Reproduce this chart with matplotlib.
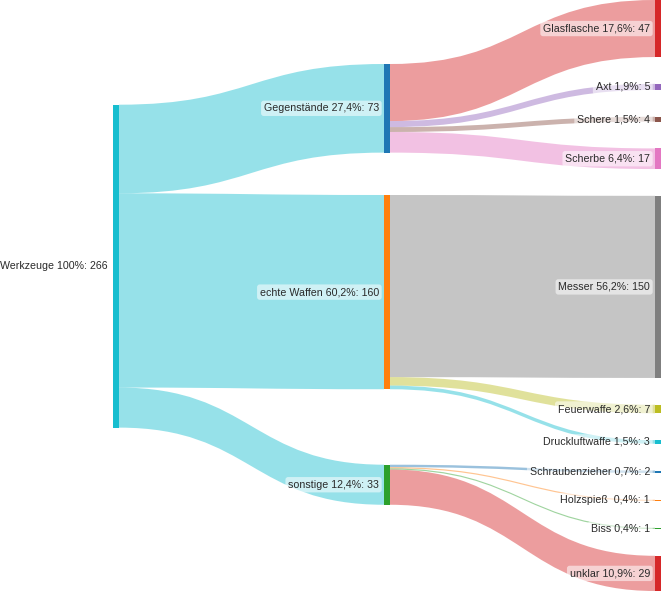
import matplotlib
matplotlib.use("Agg")
import matplotlib.pyplot as plt
from matplotlib.path import Path
from matplotlib.patches import PathPatch, Rectangle

# nodes: name, label text, colour, column
names = ["Werkzeuge", "Gegenstände", "echte Waffen", "sonstige",
         "Glasflasche", "Axt", "Schere", "Scherbe", "Messer", "Feuerwaffe",
         "Druckluftwaffe", "Schraubenzieher", "Holzspieß", "Biss", "unklar"]
labels = ["Werkzeuge 100%: 266", "Gegenstände 27,4%: 73", "echte Waffen 60,2%: 160",
          "sonstige 12,4%: 33", "Glasflasche 17,6%: 47", "Axt 1,9%: 5",
          "Schere 1,5%: 4", "Scherbe 6,4%: 17", "Messer 56,2%: 150",
          "Feuerwaffe 2,6%: 7", "Druckluftwaffe 1,5%: 3", "Schraubenzieher 0,7%: 2",
          "Holzspieß  0,4%: 1", "Biss 0,4%: 1", "unklar 10,9%: 29"]
colors = ["#17becf", "#1f77b4", "#ff7f0e", "#2ca02c", "#d62728", "#9467bd",
          "#8c564b", "#e377c2", "#7f7f7f", "#bcbd22", "#17becf", "#1f77b4",
          "#ff7f0e", "#2ca02c", "#d62728"]
column = [0, 1, 1, 1, 2, 2, 2, 2, 2, 2, 2, 2, 2, 2, 2]

# links
sources = [0, 0, 0, 1, 1, 1, 1, 2, 2, 2, 3, 3, 3, 3]
targets = [1, 2, 3, 4, 5, 6, 7, 8, 9, 10, 11, 12, 13, 14]
values = [73, 160, 33, 47, 5, 4, 17, 150, 7, 3, 2, 1, 1, 29]

# layout (pixels)
W, H = 661, 591
col_x = [113, 384, 655]
node_w = 6
scale = 1.214
fixed_top = {0: 104.7, 1: 64.0, 2: 195.0, 3: 464.7}

n = len(names)
node_val = [0] * n
for s, t, v in zip(sources, targets, values):
    node_val[t] += v
node_val[0] = sum(v for s, v in zip(sources, values) if s == 0)

# right column: equal gaps filling the full height
right = [i for i in range(n) if column[i] == 2]
gap = (H - sum(node_val[i] for i in right) * scale) / (len(right) - 1)
top = {}
y = 0.0
for i in right:
    top[i] = y
    y += node_val[i] * scale + gap
top.update(fixed_top)

fig = plt.figure(figsize=(W / 100, H / 100), dpi=100)
ax = fig.add_axes([0, 0, 1, 1])
ax.set_xlim(0, W)
ax.set_ylim(H, 0)
ax.axis("off")

out_off = [0.0] * n
in_off = [0.0] * n
for s, t, v in zip(sources, targets, values):
    h = v * scale
    x0 = col_x[column[s]] + node_w
    x1 = col_x[column[t]]
    xm = (x0 + x1) / 2
    s0 = top[s] + out_off[s]
    t0 = top[t] + in_off[t]
    out_off[s] += h
    in_off[t] += h
    verts = [(x0, s0), (xm, s0), (xm, t0), (x1, t0),
             (x1, t0 + h),
             (xm, t0 + h), (xm, s0 + h), (x0, s0 + h),
             (x0, s0)]
    codes = [Path.MOVETO, Path.CURVE4, Path.CURVE4, Path.CURVE4,
             Path.LINETO,
             Path.CURVE4, Path.CURVE4, Path.CURVE4,
             Path.CLOSEPOLY]
    # first stage takes the source colour, second stage the target colour
    lc = colors[s] if column[s] == 0 else colors[t]
    ax.add_patch(PathPatch(Path(verts, codes), facecolor=lc,
                           alpha=0.45, edgecolor="none", zorder=1))

for i in range(n):
    h = node_val[i] * scale
    ax.add_patch(Rectangle((col_x[column[i]], top[i]), node_w, h,
                           facecolor=colors[i], edgecolor="none", zorder=2))
    ax.text(col_x[column[i]] - 5, top[i] + h / 2, labels[i],
            ha="right", va="center", fontsize=7.7, color="#2a2a2a",
            family="Liberation Sans", zorder=3,
            bbox=dict(boxstyle="round,pad=0.25", fc="white", ec="none", alpha=0.55))

fig.savefig("out.png", dpi=100)
